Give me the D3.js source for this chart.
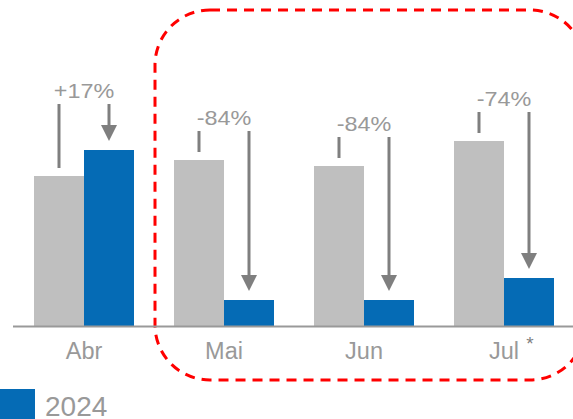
<!DOCTYPE html>
<html><head><meta charset="utf-8">
<script src="https://cdn.jsdelivr.net/npm/d3@7"></script>
<style>html,body{margin:0;padding:0;background:#fff;}svg{display:block;}</style>
</head><body>
<svg id="c" width="573" height="419"></svg>
<script>
const categories = ["Abr", "Mai", "Jun", "Jul"];
const values2023 = [150, 166, 160, 185];
const values2024 = [176, 26, 26, 48];
const changeLabels = ["+17%", "-84%", "-84%", "-74%"];
const footnoteMarks = ["", "", "", "*"];
const legendLabel = "2024";

const W = 573, H = 419;
const svg = d3.select("#c");
const font = "Liberation Sans, Arial, Helvetica, sans-serif";
const grayC = "#bfbfbf", blueC = "#056bb5", arrowC = "#7f7f7f", textC = "#999999";

const x = d3.scaleBand().domain(categories).range([14, 574]).paddingInner(40/140).paddingOuter(20/140);
const y = d3.scaleLinear().domain([0, 200]).range([326, 126]);
const half = x.bandwidth() / 2;

// red dashed highlight
svg.append("rect")
  .attr("x", 155).attr("y", 10).attr("width", 430).attr("height", 370)
  .attr("rx", 55).attr("ry", 55)
  .attr("fill", "none").attr("stroke", "#ff0000").attr("stroke-width", 3)
  .attr("stroke-dasharray", "10,7");

// bars
const g = svg.append("g");
categories.forEach((c, i) => {
  g.append("rect").attr("x", x(c)).attr("y", y(values2023[i]))
    .attr("width", half).attr("height", y(0) - y(values2023[i])).attr("fill", grayC);
  g.append("rect").attr("x", x(c) + half).attr("y", y(values2024[i]))
    .attr("width", half).attr("height", y(0) - y(values2024[i])).attr("fill", blueC);
});

// axis
const axis = d3.axisBottom(x).tickSize(0).tickPadding(0);
const ax = svg.append("g").attr("transform", `translate(0,${y(0)})`).call(axis);
ax.select(".domain").attr("d", `M13,0.5H573`).attr("stroke", "#999").attr("stroke-width", 2);
ax.selectAll(".tick text").attr("y", 33).attr("dy", 0)
  .attr("font-family", font).attr("font-size", 23.5).attr("fill", textC);
categories.forEach((c, i) => {
  if (footnoteMarks[i]) {
    svg.append("text").attr("x", x(c) + x.bandwidth()/2 + 26).attr("y", 350)
      .attr("font-family", font).attr("font-size", 19).attr("fill", "#7f7f7f")
      .attr("text-anchor", "middle").text(footnoteMarks[i]);
  }
});

// annotations
const ann = svg.append("g");
categories.forEach((c, i) => {
  const yg = y(values2023[i]), yb = y(values2024[i]);
  const top = Math.min(yg - 29, yb - 46);
  const xg = x(c) + half / 2, xb = x(c) + half * 1.5, xc = x(c) + half;
  ann.append("line").attr("x1", xg).attr("x2", xg).attr("y1", top).attr("y2", yg - 8)
    .attr("stroke", arrowC).attr("stroke-width", 3);
  const tip = yb - 9;
  ann.append("line").attr("x1", xb).attr("x2", xb).attr("y1", top).attr("y2", tip - 14)
    .attr("stroke", arrowC).attr("stroke-width", 3);
  ann.append("path").attr("d", `M${xb - 8},${tip - 16}L${xb + 8},${tip - 16}L${xb},${tip}Z`)
    .attr("fill", arrowC);
  ann.append("text").attr("transform", `translate(${xc},${top - 6.5}) scale(1.2,1)`)
    .attr("text-anchor", "middle").attr("font-family", font).attr("font-size", 19.5)
    .attr("fill", textC).text(changeLabels[i]);
});

// legend
svg.append("rect").attr("x", 0).attr("y", 389).attr("width", 35).attr("height", 30).attr("fill", blueC);
svg.append("text").attr("x", 45).attr("y", 416).attr("font-family", font).attr("font-size", 28)
  .attr("fill", textC).text(legendLabel);
</script>
</body></html>
